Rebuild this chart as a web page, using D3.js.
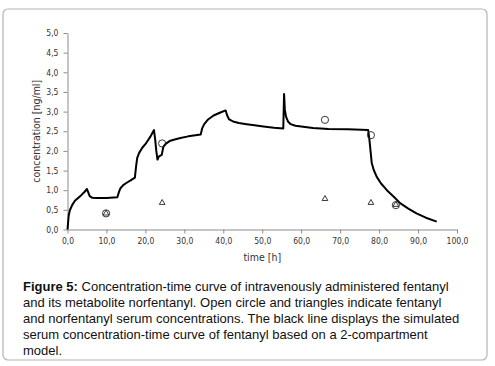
<!DOCTYPE html>
<html>
<head>
<meta charset="utf-8">
<script src="https://cdnjs.cloudflare.com/ajax/libs/d3/7.8.5/d3.min.js"></script>
<style>
  body { margin: 0; background: #fff; }
  svg { display: block; }
</style>
</head>
<body>
<div id="chart"></div>
<script>
// simulated fentanyl curve (2-compartment model)
const simTime = [0, 0.3, 0.6, 1.2, 1.9, 2.8, 3.6, 4.4, 5.0, 5.3, 5.7, 6.3, 7.5, 10, 12.8,
  13.2, 13.6, 14.3, 15.2, 16.2, 17.3, 17.6, 17.9, 18.4, 19.2, 20.2, 21.2, 22.2,
  22.5, 22.8, 23.1, 23.5, 24.2, 24.6, 25.2, 26.2, 27.5, 29, 31, 34.2,
  34.6, 35.1, 36.1, 37.5, 39.1, 40.6, 41.0, 41.5, 42.5, 44, 46, 48, 50.3, 53, 55.4,
  55.6, 55.8, 56.1, 56.6, 57.3, 58.5, 60, 63, 67, 72, 77.2,
  77.5, 77.8, 78.1, 78.6, 79.4, 80.5, 82, 83.7, 85.4, 87.5, 89.6, 92, 94.8];
const simConc = [0, 0.35, 0.49, 0.62, 0.73, 0.81, 0.88, 0.96, 1.03, 0.95, 0.85, 0.81, 0.80, 0.80, 0.82,
  0.95, 1.05, 1.13, 1.19, 1.25, 1.32, 1.6, 1.82, 1.95, 2.08, 2.2, 2.35, 2.53,
  2.3, 2.0, 1.78, 1.86, 1.9, 2.1, 2.18, 2.25, 2.29, 2.33, 2.37, 2.42,
  2.58, 2.68, 2.8, 2.9, 2.97, 3.03, 2.9, 2.8, 2.75, 2.71, 2.68, 2.65, 2.62, 2.59, 2.57,
  3.45, 3.05, 2.87, 2.75, 2.68, 2.64, 2.62, 2.58, 2.56, 2.55, 2.53,
  2.3, 2.0, 1.7, 1.52, 1.34, 1.17, 1.0, 0.84, 0.67, 0.53, 0.41, 0.30, 0.20];

// measured serum concentrations
const fentanylTime = [9.9, 24.3, 66.1, 77.9, 84.3];
const fentanylConc = [0.41, 2.19, 2.79, 2.40, 0.62];
const norfentanylTime = [9.9, 24.3, 66.1, 77.9, 84.3];
const norfentanylConc = [0.41, 0.68, 0.78, 0.68, 0.63];

const xTicks = [0, 10, 20, 30, 40, 50, 60, 70, 80, 90, 100];
const yTicks = [0, 0.5, 1, 1.5, 2, 2.5, 3, 3.5, 4, 4.5, 5];

const captionLines = [
  [["Figure 5:", true], [" Concentration-time curve of intravenously administered fentanyl", false]],
  [["and its metabolite norfentanyl. Open circle and triangles indicate fentanyl", false]],
  [["and norfentanyl serum concentrations. The black line displays the simulated", false]],
  [["serum concentration-time curve of fentanyl based on a 2-compartment", false]],
  [["model.", false]]
];

const W = 495, H = 366;
const tickFont = "'Liberation Sans Narrow', 'Arial Narrow', 'DejaVu Sans Condensed', sans-serif";
const fmt = v => v.toFixed(1).replace(".", ",");

const svg = d3.select("#chart").append("svg")
  .attr("width", W).attr("height", H);

svg.append("rect")
  .attr("x", 3).attr("y", 9)
  .attr("width", 484).attr("height", 351)
  .attr("rx", 5)
  .attr("fill", "#fff")
  .attr("stroke", "#b4b4b4")
  .attr("stroke-width", 1.2);

const x = d3.scaleLinear().domain([0, 100]).range([67.5, 457]);
const y = d3.scaleLinear().domain([0, 5]).range([229.5, 33]);

const xAxis = svg.append("g")
  .attr("transform", `translate(0,${y(0)})`)
  .call(d3.axisBottom(x).tickValues(xTicks).tickFormat(fmt).tickSize(4).tickSizeOuter(0));
const yAxis = svg.append("g")
  .attr("transform", `translate(${x(0)},0)`)
  .call(d3.axisLeft(y).tickValues(yTicks).tickFormat(fmt).tickSize(4).tickSizeOuter(0));

[xAxis, yAxis].forEach(g => {
  g.select(".domain").attr("stroke", "#8c8c8c");
  g.selectAll(".tick line").attr("stroke", "#8c8c8c");
  g.selectAll(".tick text")
    .attr("fill", "#333")
    .style("font-family", tickFont)
    .style("font-size", "8.5px");
});
xAxis.selectAll(".tick text").attr("dy", "0.71em").attr("y", 8);
yAxis.selectAll(".tick text").attr("x", -9);

svg.append("text")
  .attr("x", (x(0) + x(100)) / 2).attr("y", 261)
  .attr("text-anchor", "middle")
  .attr("fill", "#333")
  .style("font-family", tickFont)
  .style("font-size", "10.5px")
  .text("time [h]");

svg.append("text")
  .attr("transform", `translate(40,${(y(0) + y(5)) / 2}) rotate(-90)`)
  .attr("text-anchor", "middle")
  .attr("fill", "#333")
  .style("font-family", tickFont)
  .style("font-size", "10.5px")
  .text("concentration [ng/ml]");

const sim = simTime.map((t, i) => [t, simConc[i]]);
svg.append("path")
  .datum(sim)
  .attr("fill", "none")
  .attr("stroke", "#000")
  .attr("stroke-width", 2)
  .attr("stroke-linejoin", "round")
  .attr("d", d3.line().x(d => x(d[0])).y(d => y(d[1])));

svg.append("g").selectAll("circle")
  .data(fentanylTime.map((t, i) => [t, fentanylConc[i]]))
  .join("circle")
  .attr("cx", d => x(d[0])).attr("cy", d => y(d[1]))
  .attr("r", 3.6)
  .attr("fill", "none")
  .attr("stroke", "#222")
  .attr("stroke-width", 0.9);

svg.append("g").selectAll("path")
  .data(norfentanylTime.map((t, i) => [t, norfentanylConc[i]]))
  .join("path")
  .attr("transform", d => `translate(${x(d[0])},${y(d[1])})`)
  .attr("d", d3.symbol(d3.symbolTriangle, 14))
  .attr("fill", "none")
  .attr("stroke", "#222")
  .attr("stroke-width", 0.9);

const cap = svg.append("text")
  .style("font-family", "'Liberation Sans', Arial, sans-serif")
  .style("font-size", "13px")
  .attr("fill", "#111");
captionLines.forEach((line, i) => {
  line.forEach(([txt, bold], j) => {
    const ts = cap.append("tspan").text(txt).style("font-weight", bold ? "bold" : "normal");
    if (j === 0) ts.attr("x", 23).attr("y", 291 + i * 16);
  });
});
</script>
</body>
</html>
